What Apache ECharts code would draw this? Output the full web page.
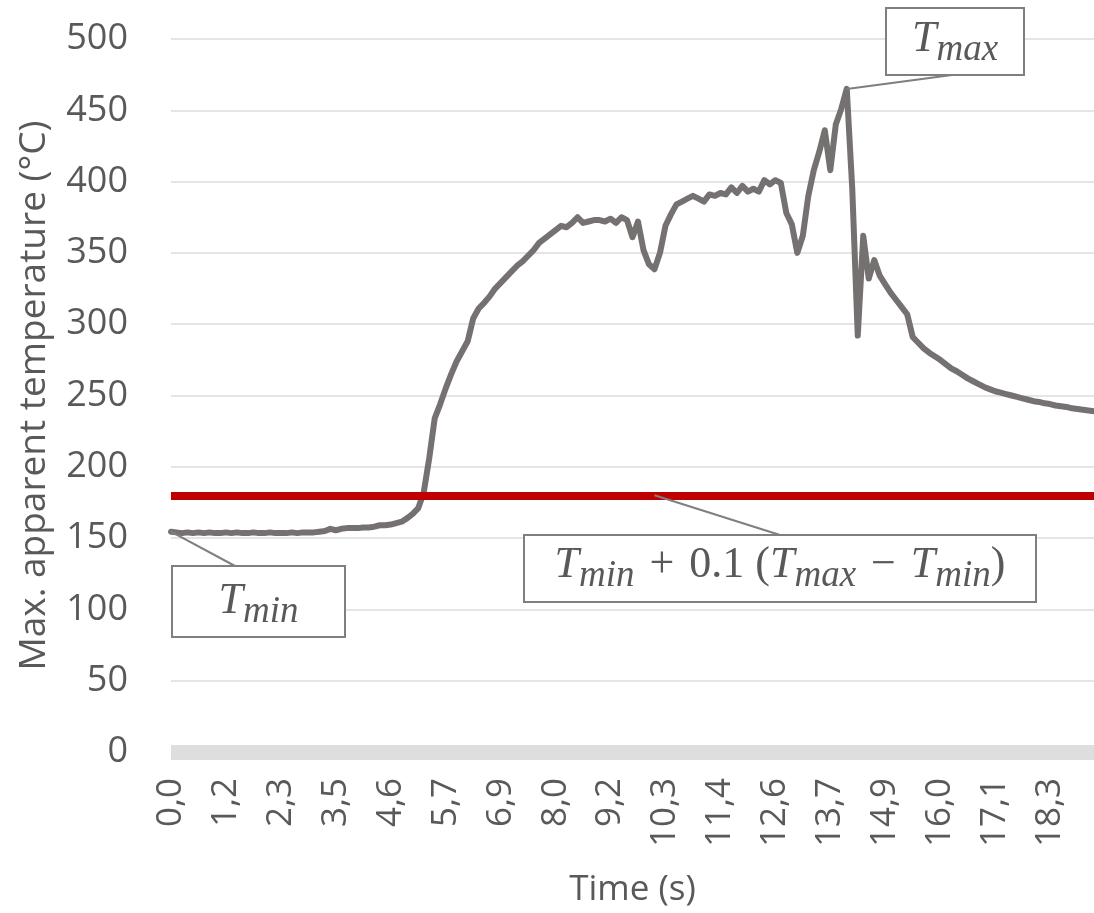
<!DOCTYPE html>
<html>
<head>
<meta charset="utf-8">
<script src="https://cdn.jsdelivr.net/npm/echarts@6/dist/echarts.min.js"></script>
<style>
  html, body { margin: 0; padding: 0; background: #ffffff; }
  #chart { width: 1094px; height: 913px; }
</style>
</head>
<body>
<div id="chart"></div>
<script>
// Time labels shown under every 10th sample (seconds, decimal comma)
const tickLabels = ['0,0', '1,2', '2,3', '3,5', '4,6', '5,7', '6,9', '8,0', '9,2',
  '10,3', '11,4', '12,6', '13,7', '14,9', '16,0', '17,1', '18,3'];
const samplesPerTick = 10;

// Maximum apparent temperature per sample (°C)
const temperature = [
  154.5, 154, 153.5, 154, 153.5, 154, 153.5, 154, 153.5, 153.5,
  154, 153.5, 154, 153.5, 153.5, 154, 153.5, 153.5, 154, 153.5,
  153.5, 153.5, 154, 153.5, 154, 154, 154, 154.5, 155, 156.5,
  155.5, 156.5, 157, 157, 157, 157.5, 157.5, 158, 159, 159,
  159.5, 160.5, 161.5, 164, 167, 171, 182, 206, 234, 244,
  255, 265, 274, 281, 288, 304, 311, 315, 319.5, 325,
  329, 333, 337, 341, 344, 348, 352, 357, 360, 363,
  366, 369, 368, 371, 375, 371, 372, 373, 373, 372,
  374, 371, 375, 373, 361, 372, 352, 342, 338.5, 350,
  369, 377, 384, 386, 388, 390, 388, 386, 391, 390,
  392, 391, 396, 392, 397, 393, 395, 393, 401, 398,
  401, 399, 378, 370, 350, 362, 390, 408, 421, 436,
  408, 440, 451, 465, 395, 292, 362, 332, 345, 334,
  328, 322, 317, 312, 307, 291, 287, 283, 280, 277.5,
  275, 272, 269, 267, 264.5, 262, 260, 258, 256, 254.5,
  253, 252, 251, 250, 249, 248, 247, 246, 245.5, 244.5,
  244, 243, 242.5, 242, 241, 240.5, 240, 239.5, 239
];
const sampleIndex = temperature.map((_, i) => String(i));

// Threshold level T_min + 0.1 (T_max - T_min)
const thresholdLevel = 180;

const textGray = '#595959';
const uiFont = 'Open Sans';

const chart = echarts.init(document.getElementById('chart'), null, { renderer: 'canvas' });

chart.setOption({
  animation: false,
  backgroundColor: '#ffffff',
  grid: { left: 171, right: 0, top: 39, bottom: 161, containLabel: false },
  xAxis: {
    type: 'category',
    data: sampleIndex,
    boundaryGap: false,
    offset: 6,
    axisLine: { show: true, lineStyle: { color: '#dedede', width: 15, cap: 'butt' } },
    axisTick: { show: false },
    axisLabel: {
      interval: samplesPerTick - 1,
      rotate: 90,
      margin: 20,
      fontFamily: uiFont,
      fontSize: 35,
      color: textGray,
      formatter: (v, idx) => (idx % samplesPerTick === 0 ? tickLabels[idx / samplesPerTick] : '')
    },
    splitLine: { show: false },
    name: 'Time (s)',
    nameLocation: 'middle',
    nameGap: 115,
    nameTextStyle: { fontFamily: uiFont, fontSize: 35, color: textGray }
  },
  yAxis: {
    type: 'value',
    min: 0,
    max: 500,
    interval: 50,
    axisLine: { show: false },
    axisTick: { show: false },
    axisLabel: { margin: 43, fontFamily: uiFont, fontSize: 36, color: textGray },
    splitLine: { show: true, lineStyle: { color: '#dcdcdc', width: 1.5 } },
    name: 'Max. apparent temperature (°C)',
    nameLocation: 'middle',
    nameGap: 118,
    nameTextStyle: { fontFamily: uiFont, fontSize: 37, color: textGray }
  },
  series: [{
    type: 'line',
    data: temperature,
    showSymbol: false,
    symbol: 'none',
    lineStyle: { color: '#767171', width: 6, join: 'round', cap: 'round' },
    z: 2,
    markLine: {
      silent: true,
      symbol: 'none',
      label: { show: false },
      z: 5,
      lineStyle: { color: '#c00000', width: 8, type: 'solid' },
      data: [{ yAxis: thresholdLevel }]
    }
  }]
});

// Callout boxes with math-style labels (italic variables, lowered subscripts)
const mathFont = 'Liberation Serif';
const mathRich = {
  i: { fontFamily: mathFont, fontStyle: 'italic', fontSize: 44, fill: textGray, lineHeight: 56 },
  s: { fontFamily: mathFont, fontStyle: 'italic', fontSize: 37, fill: textGray, lineHeight: 56, padding: [22, 0, 0, 0] },
  n: { fontFamily: mathFont, fontSize: 44, fill: textGray, lineHeight: 56 },
  o: { fontFamily: mathFont, fontSize: 44, fill: textGray, lineHeight: 56, padding: [0, 4, 0, 4] }
};

const peakIdx = temperature.indexOf(Math.max(...temperature));
const pPeak = chart.convertToPixel({ gridIndex: 0 }, [peakIdx, temperature[peakIdx]]);
const pStart = chart.convertToPixel({ gridIndex: 0 }, [0, temperature[0]]);
const pThresh = chart.convertToPixel({ gridIndex: 0 }, [88, thresholdLevel]);

const boxes = [
  { x: 886, y: 8, w: 138, h: 67, hook: [952, 75], anchor: pPeak, cy: 39, text: '{i|T}{s|max}' },
  { x: 172, y: 566, w: 173, h: 71, hook: [235, 566], anchor: pStart, cy: 601, text: '{i|T}{s|min}' },
  { x: 524, y: 535, w: 512, h: 67, hook: [780, 535], anchor: pThresh, cy: 565,
    text: '{i|T}{s|min}{o| + }{n|0.1 (}{i|T}{s|max}{o| − }{i|T}{s|min}{n|)}' }
];

const graphics = [];
boxes.forEach(b => {
  graphics.push({
    type: 'line', z: 10, silent: true,
    shape: { x1: b.anchor[0], y1: b.anchor[1], x2: b.hook[0], y2: b.hook[1] },
    style: { stroke: '#7f7f7f', lineWidth: 2 }
  });
  graphics.push({
    type: 'rect', z: 11, silent: true,
    shape: { x: b.x, y: b.y, width: b.w, height: b.h },
    style: { fill: '#ffffff', stroke: '#7f7f7f', lineWidth: 2 }
  });
  graphics.push({
    type: 'text', z: 12, silent: true,
    x: b.x + b.w / 2, y: b.cy,
    style: { text: b.text, rich: mathRich, align: 'center', verticalAlign: 'middle' }
  });
});

chart.setOption({ graphic: graphics });
</script>
</body>
</html>
